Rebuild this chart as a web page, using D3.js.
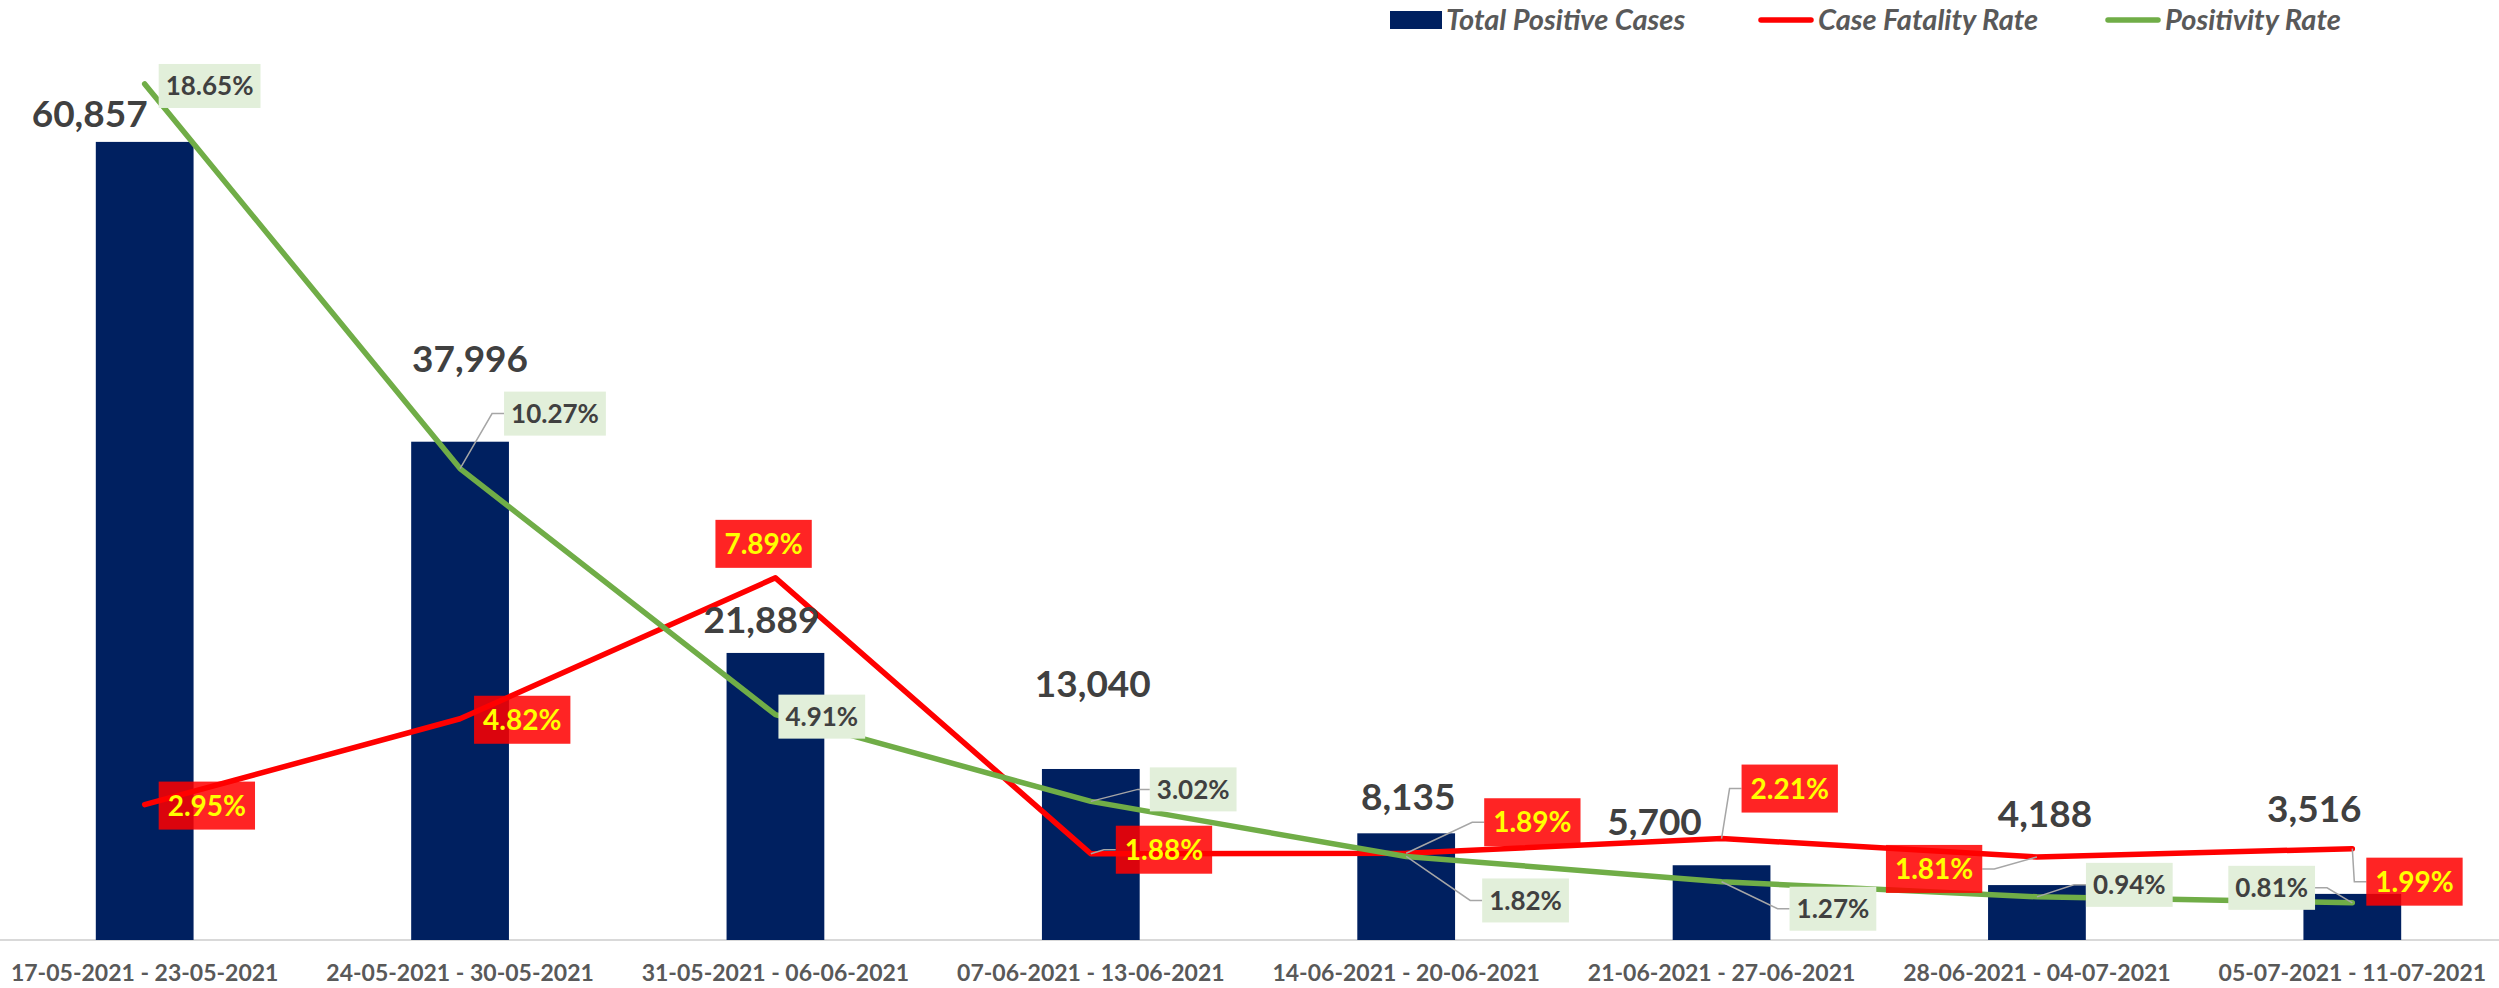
<!DOCTYPE html>
<html>
<head>
<meta charset="utf-8">
<script src="https://cdn.jsdelivr.net/npm/d3@7"></script>
<style>
  html, body { margin: 0; padding: 0; background: #fff; }
  svg { display: block; font-family: Lato, 'Open Sans', sans-serif; }
</style>
</head>
<body>
<div id="chart"></div>
<script>
const weeks = [
  '17-05-2021 - 23-05-2021', '24-05-2021 - 30-05-2021', '31-05-2021 - 06-06-2021',
  '07-06-2021 - 13-06-2021', '14-06-2021 - 20-06-2021', '21-06-2021 - 27-06-2021',
  '28-06-2021 - 04-07-2021', '05-07-2021 - 11-07-2021'
];
const totalPositive = [60857, 37996, 21889, 13040, 8135, 5700, 4188, 3516];
const fatalityRate = [2.95, 4.82, 7.89, 1.88, 1.89, 2.21, 1.81, 1.99];
const positivityRate = [18.65, 10.27, 4.91, 3.02, 1.82, 1.27, 0.94, 0.81];
const seriesNames = ['Total Positive Cases', 'Case Fatality Rate', 'Positivity Rate'];

// label placement, dragged by hand in the original
const barLabelOffsets = [[-55, -15], [10, -70], [-14, -20], [2, -72], [2, -23], [-67, -30], [8, -58], [-38, -72]];
const posLabelOffsets = [[14, -20, 0], [44, -77, 1], [3, -20, 0], [59, -34, 1], [76, 22, 1], [68, 5, 1], [49, -34, 1], [-124, -37, 1]];
const cfrLabelOffsets = [[14, -23, 0], [14, -23, 0], [-60, -58, 0], [25, -28, 1], [78, -55, 1], [20, -74, 1], [-151, -12, 1], [14, 9, 1]];

const W = 2499, H = 988;
const base = 940, plotTop = 22;
const navy = '#002060', red = '#FF0000', green = '#70AD47';

const svg = d3.select('#chart').append('svg')
  .attr('width', W)
  .attr('height', H);

const x = d3.scaleBand()
  .domain(weeks)
  .range([-13, 2510])
  .paddingInner(0.69)
  .paddingOuter(0.345);
const cx = d => x(d) + x.bandwidth() / 2;

const yBar = d3.scaleLinear().domain([0, 70000]).range([base, plotTop]);
const yRate = d3.scaleLinear().domain([0, 20]).range([base, plotTop]);

// axis
const xAxis = svg.append('g')
  .attr('transform', `translate(0,${base})`)
  .call(d3.axisBottom(x).tickSize(0).tickPadding(25));
xAxis.select('.domain')
  .attr('d', `M0,0H${W}`)
  .attr('stroke', '#D9D9D9')
  .attr('stroke-width', 2);
xAxis.selectAll('text')
  .attr('font-family', 'Lato, sans-serif')
  .attr('font-size', 23)
  .attr('font-weight', 700)
  .attr('fill', '#595959');

// bars
svg.append('g').selectAll('rect')
  .data(totalPositive)
  .join('rect')
    .attr('x', (d, i) => x(weeks[i]))
    .attr('y', d => yBar(d))
    .attr('width', x.bandwidth())
    .attr('height', d => base - yBar(d))
    .attr('fill', navy);

const line = d3.line()
  .x((d, i) => cx(weeks[i]))
  .y(d => yRate(d));

svg.append('path')
  .datum(fatalityRate)
  .attr('d', line)
  .attr('fill', 'none')
  .attr('stroke', red)
  .attr('stroke-width', 5.5)
  .attr('stroke-linecap', 'round')
  .attr('stroke-linejoin', 'round');

svg.append('path')
  .datum(positivityRate)
  .attr('d', line)
  .attr('fill', 'none')
  .attr('stroke', green)
  .attr('stroke-width', 5.5)
  .attr('stroke-linecap', 'round')
  .attr('stroke-linejoin', 'round');

// bar value labels
const fmt = d3.format(',');
svg.append('g').selectAll('text')
  .data(totalPositive)
  .join('text')
    .attr('x', (d, i) => cx(weeks[i]) + barLabelOffsets[i][0])
    .attr('y', (d, i) => yBar(d) + barLabelOffsets[i][1])
    .attr('text-anchor', 'middle')
    .attr('font-size', 37)
    .attr('font-weight', 700)
    .attr('fill', '#404040')
    .text(d => fmt(d));

function rateLabels(values, offsets, opt) {
  const g = svg.append('g');
  values.forEach((v, i) => {
    const px = cx(weeks[i]), py = yRate(v);
    const t = g.append('text')
      .attr('font-size', opt.size)
      .attr('font-weight', 700)
      .attr('fill', opt.color)
      .attr('text-anchor', 'middle')
      .text(v.toFixed(2) + '%');
    const w = t.node().getComputedTextLength() + 2 * opt.pad;
    const bx = px + offsets[i][0], by = py + offsets[i][1];
    const midY = by + opt.h / 2;
    if (offsets[i][2]) {
      const left = bx + w / 2 > px;
      const edge = left ? bx : bx + w;
      const elbow = left ? edge - 12 : edge + 12;
      g.insert('path', 'text')
        .attr('d', `M${px},${py}L${elbow},${midY}L${edge},${midY}`)
        .attr('fill', 'none')
        .attr('stroke', '#A6A6A6')
        .attr('stroke-width', 1.5);
    }
    g.insert('rect', 'text')
      .attr('x', bx)
      .attr('y', by)
      .attr('width', w)
      .attr('height', opt.h)
      .attr('fill', opt.fill)
      .attr('fill-opacity', opt.opacity);
    t.attr('x', bx + w / 2)
      .attr('y', midY)
      .attr('dy', '0.36em');
  });
}

rateLabels(fatalityRate, cfrLabelOffsets, { size: 28, color: '#FFFF00', fill: red, opacity: 0.86, pad: 9, h: 48 });
rateLabels(positivityRate, posLabelOffsets, { size: 26, color: '#404040', fill: '#E2EFDA', opacity: 1, pad: 7, h: 44 });

// legend
const legendX = [1390, 1758, 2105];
const legend = svg.append('g');
seriesNames.forEach((name, i) => {
  const lx = legendX[i];
  let kw;
  if (i === 0) {
    kw = 52;
    legend.append('rect')
      .attr('x', lx).attr('y', 11)
      .attr('width', kw).attr('height', 18)
      .attr('fill', navy);
  } else {
    kw = 56;
    legend.append('line')
      .attr('x1', lx + 3).attr('x2', lx + kw - 3)
      .attr('y1', 20).attr('y2', 20)
      .attr('stroke', i === 1 ? red : green)
      .attr('stroke-width', 5.5)
      .attr('stroke-linecap', 'round');
  }
  legend.append('text')
    .attr('x', lx + kw + 4)
    .attr('y', 30)
    .attr('font-size', 29)
    .attr('font-weight', 700)
    .attr('font-style', 'italic')
    .attr('fill', '#595959')
    .text(name);
});
</script>
</body>
</html>
